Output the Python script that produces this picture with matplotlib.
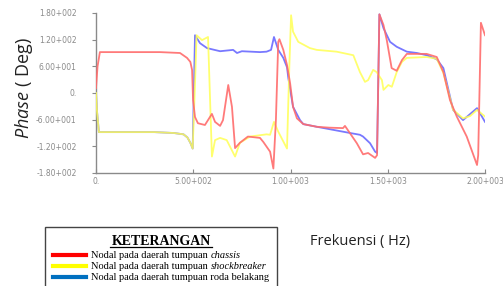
import matplotlib
matplotlib.use("Agg")
import matplotlib.pyplot as plt
from matplotlib.patches import Rectangle
from matplotlib.lines import Line2D

# ---- data ----
freq_red = [0, 8, 20, 100, 200, 329, 432, 468, 485, 494, 499, 509, 524, 560, 596, 612, 638, 653,
            680, 699, 715, 740, 781, 843, 860, 895, 912, 925, 937, 943, 963, 982, 998, 1013, 1033,
            1066, 1135, 1200, 1270, 1280, 1341, 1373, 1399, 1435, 1445, 1457, 1478, 1495, 1520,
            1546, 1573, 1598, 1700, 1752, 1786, 1820, 1855, 1906, 1959, 1965, 1979, 2000]
phase_red = [11, 60, 92, 92, 92, 92, 90, 79, 70, 52, -16, -54, -68, -72, -47, -65, -74, -61,
             18, -31, -124, -112, -98, -101, -110, -132, -170, -60, 115, 121, 97, 63, 22, -31, -57,
             -70, -76, -78, -79, -74, -113, -138, -135, -146, -140, 177, 153, 119, 56,
             50, 74, 88, 88, 81, 47, -16, -53, -98, -162, -140, 158, 130]

freq_yellow = [0, 5, 15, 100, 300, 400, 450, 470, 485, 497, 509, 517, 545, 576, 596, 612, 638, 672,
               715, 740, 792, 877, 895, 915, 937, 982, 994, 1003, 1013, 1040, 1100, 1135, 1237,
               1323, 1357, 1383, 1399, 1425, 1443, 1470, 1478, 1503, 1521, 1546, 1573, 1598,
               1700, 1752, 1786, 1836, 1887, 1923, 1959, 2000]
phase_yellow = [0, -40, -88, -88, -88, -90, -93, -100, -112, -125, 20, 130, 119, 126, -143, -106, -101, -106,
                -143, -112, -98, -93, -94, -65, -87, -125, 60, 175, 138, 115, 101, 97, 93,
                85, 47, 25, 29, 52, 47, 29, 7, 18, 14, 47, 70, 79,
                81, 77, 45, -38, -57, -52, -38, -53]

freq_blue = [0, 5, 15, 100, 300, 400, 450, 470, 485, 497, 509, 535, 571, 638, 705, 725, 750, 843,
             877, 900, 915, 937, 963, 982, 989, 1013, 1049, 1066, 1135, 1306, 1357, 1373, 1409,
             1435, 1445, 1457, 1478, 1512, 1546, 1598, 1650, 1700, 1752, 1786, 1836, 1887,
             1959, 2000]
phase_blue = [0, -40, -88, -88, -88, -90, -93, -100, -112, -125, 130, 112, 101, 94, 97, 90, 94, 92,
              93, 97, 126, 97, 79, 58, 33, -31, -61, -70, -76, -90, -94, -98, -113,
              -132, -135, 177, 146, 115, 104, 93, 90, 85, 76, 56, -38, -61,
              -34, -65]

yticks = [180, 120, 60, 0, -60, -120, -180]
ytick_labels = ["1.80+002", "1.20+002", "6.00+001", "0.", "-6.00+001", "-1.20+002", "-1.80+002"]
xticks = [0, 500, 1000, 1500, 2000]
xtick_labels = ["0.", "5.00+002", "1.00+003", "1.50+003", "2.00+003"]

legend_title = "KETERANGAN"
legend_prefix = "Nodal pada daerah tumpuan"
legend_suffix = ["chassis", "shockbreaker", "roda belakang"]
legend_italic = [True, True, False]
legend_colors = ["#ff0000", "#ffff00", "#0070c0"]

# ---- figure ----
plt.rcParams['mathtext.fontset'] = 'custom'
plt.rcParams['mathtext.it'] = 'Open Sans:italic'
plt.rcParams['mathtext.rm'] = 'Open Sans'

W, H = 503, 286
fig = plt.figure(figsize=(W / 100, H / 100), dpi=100)
ax = fig.add_axes([96 / W, 1 - 173 / H, (485 - 96) / W, (173 - 13) / H])

ax.plot(freq_blue, phase_blue, color="#7878ff", lw=1.3, zorder=2)
ax.plot(freq_yellow, phase_yellow, color="#ffff55", lw=1.3, zorder=3, alpha=0.85)
ax.plot(freq_red, phase_red, color="#ff6c6c", lw=1.3, zorder=4, alpha=0.9)

ax.set_xlim(0, 2000)
ax.set_ylim(-180, 180)
ax.set_xticks(xticks)
ax.set_xticklabels(xtick_labels)
ax.set_yticks(yticks)
ax.set_yticklabels(ytick_labels)
for s in ["top", "right"]:
    ax.spines[s].set_visible(False)
for s in ["left", "bottom"]:
    ax.spines[s].set_color("#8a8a8a")
    ax.spines[s].set_linewidth(1.0)
ax.tick_params(axis="y", direction="out", length=3, width=0.8, color="#8a8a8a",
               labelsize=5.5, labelcolor="#8a8a8a", pad=11)
ax.tick_params(axis="x", direction="in", length=3, width=0.8, color="#8a8a8a",
               labelsize=5.5, labelcolor="#8a8a8a", pad=3)
ax.patch.set_alpha(0)

# y label
fig.text(24 / W, 1 - 88 / H, r"$\it{Phase}$ ( Deg)", rotation=90, ha="center", va="center",
         fontsize=13, family="Open Sans", color="#222222")
# x label
fig.text(310 / W, 1 - 242 / H, "Frekuensi ( Hz)", ha="left", va="center",
         fontsize=10.5, family="Open Sans", color="#222222")

# legend box
fig.add_artist(Rectangle((45 / W, -0.05), (277 - 45) / W, 1 - 227 / H + 0.05,
                         transform=fig.transFigure, fill=False, edgecolor="#444444", lw=1.0))
fig.text(161 / W, 1 - 245 / H, legend_title, ha="center", va="baseline",
         fontsize=10, family="Liberation Serif", fontweight="bold", color="black")
fig.add_artist(Line2D([110 / W, 212 / W], [1 - 246.5 / H, 1 - 246.5 / H], transform=fig.transFigure,
                      color="black", lw=0.9))
ys = [255, 266, 277]
for y, suf, it, col in zip(ys, legend_suffix, legend_italic, legend_colors):
    fig.add_artist(Line2D([53 / W, 86 / W], [1 - y / H, 1 - y / H], transform=fig.transFigure,
                          color=col, lw=3))
    if it:
        tt = fig.text(91 / W, 1 - (y + 3) / H, legend_prefix, ha="left", va="baseline",
                      fontsize=7.5, family="Liberation Serif")
        ax.annotate(suf, xy=(1, 0), xycoords=tt, xytext=(2, 0), textcoords="offset points",
                    ha="left", va="bottom", fontsize=7.5, family="Liberation Serif",
                    style="italic", annotation_clip=False)
    else:
        fig.text(91 / W, 1 - (y + 3) / H, legend_prefix + " " + suf, ha="left", va="baseline",
                 fontsize=7.5, family="Liberation Serif")

fig.savefig("out.png", dpi=100)
